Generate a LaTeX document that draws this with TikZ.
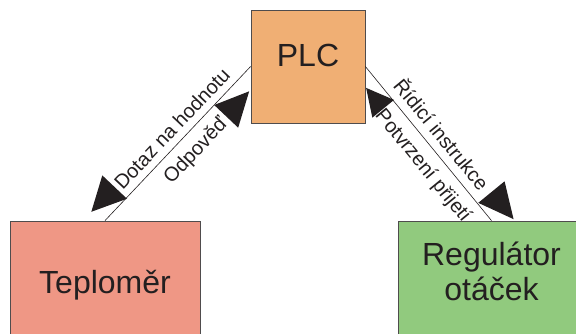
\documentclass[tikz,border=0pt]{standalone}
\usepackage{fontspec}
\setmainfont{Liberation Sans}
\usetikzlibrary{decorations.markings}
\definecolor{plcfill}{RGB}{240,175,116}
\definecolor{tepfill}{RGB}{239,151,133}
\definecolor{regfill}{RGB}{145,202,126}
\definecolor{ink}{RGB}{35,31,32}
\begin{document}
\begin{tikzpicture}[x=1pt,y=1pt,
	box/.style={draw=ink!80, line width=0.8pt, inner sep=0pt, text=ink, font=\fontsize{32}{35}\selectfont},
	link/.style={draw=ink, line width=0.6pt, postaction=decorate},
	lbl/.style={sloped, inner sep=0pt, text=ink, font=\fontsize{20}{22}\selectfont}]

	\useasboundingbox (0,0) rectangle (576,333);
	\clip (0,0) rectangle (576,333);

	%the three units
	\node[box, fill=plcfill, minimum width=114pt, minimum height=113pt, text height=23pt, text depth=23pt] (plc) at (308,266.5) {PLC};
	\node[box, fill=tepfill, minimum width=190pt, minimum height=124pt, text height=24pt, text depth=4pt] (tep) at (105,50) {Teploměr};
	\node[box, fill=regfill, minimum width=187pt, minimum height=124pt, align=center, text height=59pt, text depth=25pt] (reg) at (491.5,50) {Regulátor\\otáček};

	%Teplomer <-> PLC
	\draw[link, decoration={markings, mark=at position 0 with {
			\fill[ink] (-3,16) -- (31,33) -- (31,-1) -- cycle;
			\fill[ink] (193,-16) -- (159,0) -- (159,-33) -- cycle;}}]
		(tep.north) -- (plc.west)
		node[lbl, above=7pt, pos=0.533] (dotaz) {Dotaz na hodnotu}
		node[lbl, below=9pt, pos=0.533] (odpoved) {Odpověď};

	%PLC <-> regulator
	\draw[link, decoration={markings, mark=at position 0 with {
			\fill[ink] (212,18) -- (177,35) -- (177,1) -- cycle;
			\fill[ink] (17,-13) -- (44,1) -- (44,-27) -- cycle;}}]
		(plc.east) -- (reg.north)
		node[lbl, above=8pt, pos=0.506] (ridici) {Řídicí instrukce}
		node[lbl, below=9pt, pos=0.57] (potvrzeni) {Potvrzení přijetí};

\end{tikzpicture}
\end{document}
